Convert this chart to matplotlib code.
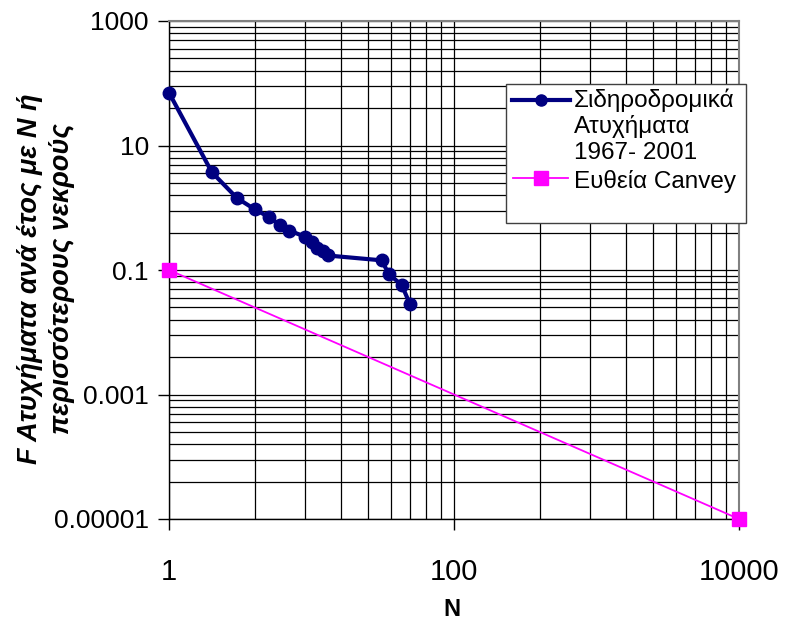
import matplotlib
matplotlib.use("Agg")
import matplotlib.pyplot as plt
from matplotlib.ticker import FixedLocator, NullFormatter
from matplotlib.lines import Line2D
from matplotlib.patches import Rectangle

plt.rcParams['font.family'] = ['Liberation Sans', 'DejaVu Sans']

# ---- data ----
rail_N = [1, 2, 3, 4, 5, 6, 7, 9, 10, 11, 12, 13, 31, 35, 43, 49]
rail_F = [70.5, 3.71, 1.43, 0.943, 0.714, 0.529, 0.429, 0.343, 0.286,
          0.229, 0.2, 0.171, 0.143, 0.0857, 0.0571, 0.0286]
canvey_N = [1, 10000]
canvey_F = [0.1, 0.00001]

x_major = [1, 100, 10000]
x_labels = ['1', '100', '10000']
y_major = [0.00001, 0.001, 0.1, 10, 1000]
y_labels = ['0.00001', '0.001', '0.1', '10', '1000']

rail_label = "Σιδηροδρομικά\nΑτυχήματα\n1967- 2001"
canvey_label = "Ευθεία Canvey"
x_title = "N"
y_title = "F Ατυχήματα ανά έτος με N ή\nπερισσότερους νεκρούς"

# ---- figure ----
W, H = 786, 624
fig = plt.figure(figsize=(W / 100, H / 100), dpi=100)
ax = fig.add_axes([169 / W, 1 - 519 / H, 570 / W, 498 / H])
ax.set_xscale('log')
ax.set_yscale('log')
ax.set_xlim(1, 10000)
ax.set_ylim(1e-5, 1000)

# base-100 log axis style gridlines (Excel)
def minors(majors):
    out = []
    for m in majors[:-1]:
        for k in range(2, 10):
            out.append(m * k * k)
    return out

ax.xaxis.set_major_locator(FixedLocator(x_major))
ax.xaxis.set_minor_locator(FixedLocator(minors(x_major)))
ax.yaxis.set_major_locator(FixedLocator(y_major))
ax.yaxis.set_minor_locator(FixedLocator(minors(y_major)))
ax.set_xticklabels(x_labels)
ax.set_yticklabels(y_labels)
ax.xaxis.set_minor_formatter(NullFormatter())
ax.yaxis.set_minor_formatter(NullFormatter())
ax.tick_params(which='minor', length=0)
ax.tick_params(axis='x', which='major', length=8, width=1, direction='out',
               labelsize=21, pad=20)
ax.tick_params(axis='y', which='major', length=8, width=1, direction='out',
               labelsize=19, pad=6.5)
ax.grid(True, which='both', color='black', linewidth=0.9)
ax.set_axisbelow(True)
for s in ['top', 'right']:
    ax.spines[s].set_color('#808080')
    ax.spines[s].set_linewidth(1.5)
for s in ['left', 'bottom']:
    ax.spines[s].set_color('black')
    ax.spines[s].set_linewidth(1.0)

ax.plot(canvey_N, canvey_F, color='#FF00FF', linewidth=1.3, marker='s',
        markersize=10.5, clip_on=False, zorder=4)
ax.plot(rail_N, rail_F, color='#000080', linewidth=3, marker='o',
        markersize=9, clip_on=False, zorder=5)

fig.text(452 / W, 1 - 610 / H, x_title, ha='center', va='center',
         fontsize=17, fontweight='bold')
fig.text(46 / W, 1 - 279 / H, y_title, ha='center', va='center', rotation=90,
         fontsize=19.5, fontweight='bold', fontstyle='italic', linespacing=1.3,
         multialignment='center')

# ---- legend (Excel-like, handle at first line) ----
def fx(px):
    return px / W

def fy(py):
    return 1 - py / H

fig.add_artist(Rectangle((fx(506), fy(223)), fx(746) - fx(506), fy(84) - fy(223),
                         transform=fig.transFigure, facecolor='white',
                         edgecolor='#404040', linewidth=1.0, zorder=10))
fig.add_artist(Line2D([fx(512), fx(570)], [fy(99.5), fy(99.5)], color='#000080',
                      linewidth=3, transform=fig.transFigure, zorder=11))
fig.add_artist(Line2D([fx(541)], [fy(99.5)], color='#000080', marker='o',
                      markersize=8, transform=fig.transFigure, zorder=12))
fig.add_artist(Line2D([fx(513), fx(568)], [fy(177.5), fy(177.5)], color='#FF00FF',
                      linewidth=1.3, transform=fig.transFigure, zorder=11))
fig.add_artist(Line2D([fx(541)], [fy(177.5)], color='#FF00FF', marker='s',
                      markersize=10.5, transform=fig.transFigure, zorder=12))
rail_lines = rail_label.split('\n')
baselines = [107, 133, 159]
for t, b in zip(rail_lines, baselines):
    fig.text(fx(574), fy(b), t, ha='left', va='baseline', fontsize=17.5, zorder=13)
fig.text(fx(574), fy(188), canvey_label, ha='left', va='baseline', fontsize=17.5,
         zorder=13)

fig.savefig('out.png', dpi=100)
